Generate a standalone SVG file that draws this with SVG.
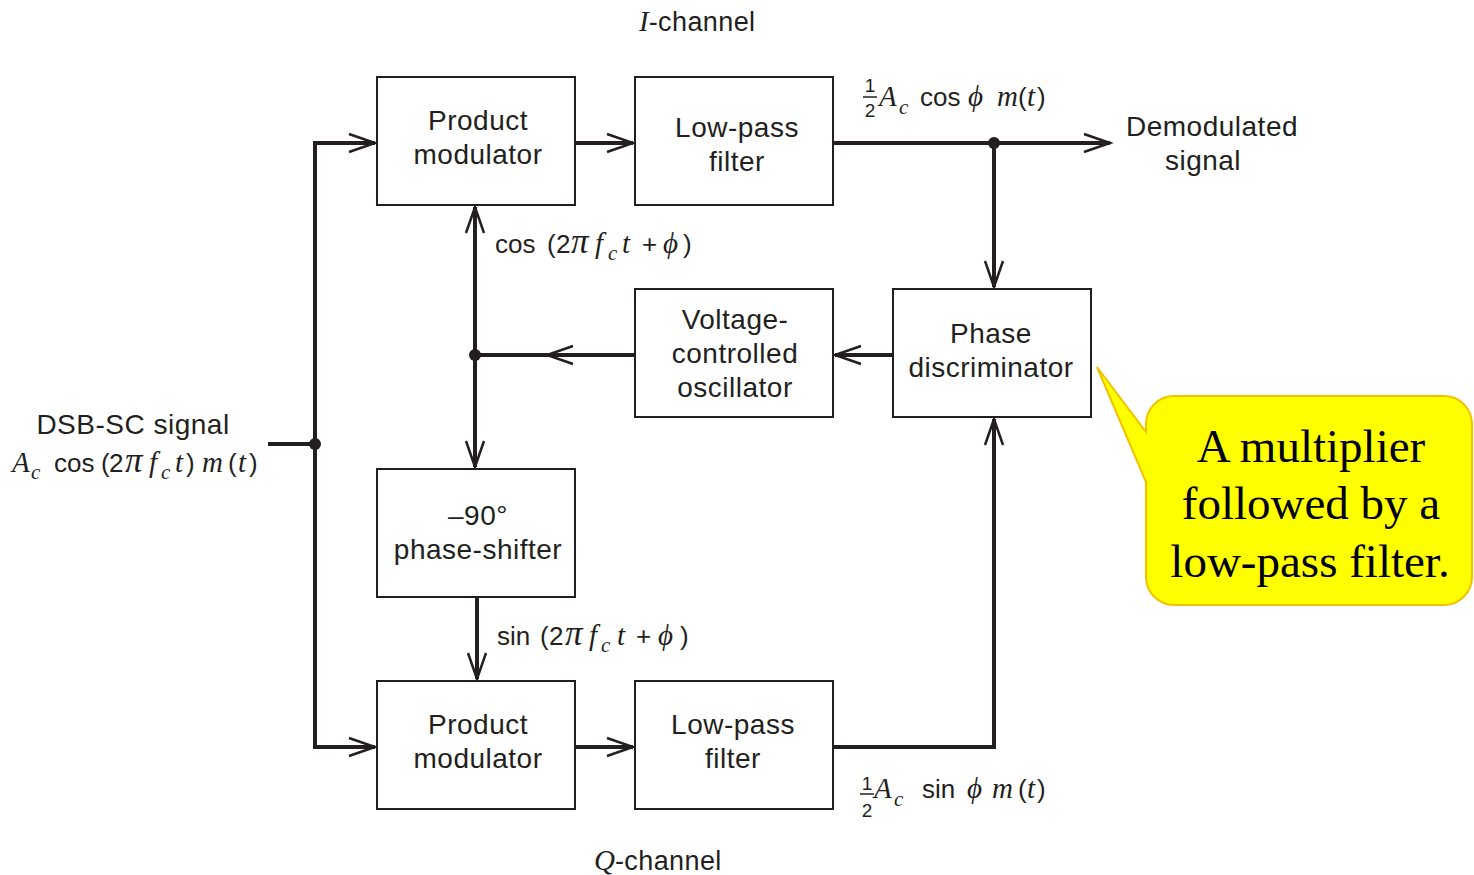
<svg xmlns="http://www.w3.org/2000/svg" width="1474" height="875" viewBox="0 0 1474 875">
<defs>
<style>
.box{fill:#fff;stroke:#231f20;stroke-width:2}
.ln{fill:none;stroke:#231f20;stroke-width:4}
.t{font-family:"Liberation Sans",Arial,sans-serif;font-size:28px;letter-spacing:0.5px;fill:#231f20;text-anchor:middle}
.m{font-family:"Liberation Sans",Arial,sans-serif;font-size:27px;letter-spacing:0.4px;fill:#231f20}
.e{font-family:"Liberation Sans",Arial,sans-serif;font-size:26px;fill:#231f20}
.i{font-family:"Liberation Serif","Times New Roman",serif;font-style:italic;font-size:29px;letter-spacing:0}
.pi{font-size:35px}
.sub{font-size:21px}
.fr{font-family:"Liberation Sans",Arial,sans-serif;font-size:19px;fill:#231f20;text-anchor:middle}
.call{font-family:"Liberation Serif","Times New Roman",serif;font-size:47px;fill:#000;text-anchor:middle}
</style>
<marker id="ah" markerUnits="userSpaceOnUse" markerWidth="40" markerHeight="30" viewBox="-30 -15 34 30" refX="0" refY="0" orient="auto">
<path d="M-26,-9 L0,0 L-26,9" fill="none" stroke="#231f20" stroke-width="2.5"/>
</marker>
</defs>
<rect width="1474" height="875" fill="#fff"/>

<g id="connectors">
<polyline class="ln" points="268,444 315,444"/>
<polyline class="ln" points="375,143 315,143 315,747 375,747" marker-end="url(#ah)"/>
<line class="ln" x1="315" y1="143" x2="375" y2="143" marker-end="url(#ah)"/>
<line class="ln" x1="575" y1="143" x2="633" y2="143" marker-end="url(#ah)"/>
<line class="ln" x1="833" y1="143" x2="1110" y2="143" marker-end="url(#ah)"/>
<line class="ln" x1="994" y1="143" x2="994" y2="287" marker-end="url(#ah)"/>
<line class="ln" x1="893" y1="355" x2="835" y2="355" marker-end="url(#ah)"/>
<line class="ln" x1="635" y1="355" x2="547" y2="355" marker-end="url(#ah)"/>
<line class="ln" x1="547" y1="355" x2="475" y2="355"/>
<line class="ln" x1="475" y1="355" x2="475" y2="207" marker-end="url(#ah)"/>
<line class="ln" x1="475" y1="355" x2="475" y2="467" marker-end="url(#ah)"/>
<line class="ln" x1="477" y1="597" x2="477" y2="679" marker-end="url(#ah)"/>
<line class="ln" x1="575" y1="747" x2="633" y2="747" marker-end="url(#ah)"/>
<polyline class="ln" points="833,747 994,747 994,419" marker-end="url(#ah)"/>
<circle cx="315" cy="444" r="6" fill="#231f20"/>
<circle cx="994" cy="143" r="6" fill="#231f20"/>
<circle cx="475" cy="355" r="6" fill="#231f20"/>
</g>

<g id="pm1"><rect class="box" x="377" y="77" width="198" height="128"/>
<text class="t" x="478" y="130">Product</text><text class="t" x="478" y="164">modulator</text></g>
<g id="lpf1"><rect class="box" x="635" y="77" width="198" height="128"/>
<text class="t" x="737" y="137">Low-pass</text><text class="t" x="737" y="171">filter</text></g>
<g id="vco"><rect class="box" x="635" y="289" width="198" height="128"/>
<text class="t" x="735" y="329">Voltage-</text><text class="t" x="735" y="363">controlled</text><text class="t" x="735" y="397">oscillator</text></g>
<g id="pd"><rect class="box" x="893" y="289" width="198" height="128"/>
<text class="t" x="991" y="343">Phase</text><text class="t" x="991" y="377">discriminator</text></g>
<g id="ps"><rect class="box" x="377" y="469" width="198" height="128"/>
<text class="t" x="478" y="525">–90°</text><text class="t" x="478" y="559">phase-shifter</text></g>
<g id="pm2"><rect class="box" x="377" y="681" width="198" height="128"/>
<text class="t" x="478" y="734">Product</text><text class="t" x="478" y="768">modulator</text></g>
<g id="lpf2"><rect class="box" x="635" y="681" width="198" height="128"/>
<text class="t" x="733" y="734">Low-pass</text><text class="t" x="733" y="768">filter</text></g>

<g id="labels">
<text class="m" x="639" y="31"><tspan class="i">I</tspan>-channel</text>
<text class="m" x="594" y="870"><tspan class="i">Q</tspan>-channel</text>
<text class="t" x="1212" y="136">Demodulated</text>
<text class="t" x="1203" y="170">signal</text>
<text class="t" x="133" y="434">DSB-SC signal</text>

<text class="e"><tspan class="i" x="12" y="472">A</tspan><tspan class="i sub" x="31" y="479">c</tspan><tspan x="54" y="472">cos</tspan><tspan x="101" y="472">(</tspan><tspan x="109" y="472">2</tspan><tspan class="i pi" x="125" y="472">π</tspan><tspan class="i" x="149" y="472">f</tspan><tspan class="i sub" x="161" y="479">c</tspan><tspan class="i" x="175" y="472">t</tspan><tspan x="186" y="472">)</tspan><tspan class="i" x="202" y="472">m</tspan><tspan x="228" y="472">(</tspan><tspan class="i" x="238" y="472">t</tspan><tspan x="249" y="472">)</tspan></text>

<text class="fr" x="870" y="92">1</text><line x1="863" y1="97" x2="877" y2="97" stroke="#231f20" stroke-width="1.5"/><text class="fr" x="870" y="117">2</text>
<text class="e"><tspan class="i" x="879" y="106">A</tspan><tspan class="i sub" x="899" y="114">c</tspan><tspan x="920" y="106">cos</tspan><tspan class="i" x="968" y="106">ϕ</tspan><tspan class="i" x="997" y="106">m</tspan><tspan x="1018" y="106">(</tspan><tspan class="i" x="1027" y="106">t</tspan><tspan x="1037" y="106">)</tspan></text>

<text class="fr" x="867" y="790">1</text><line x1="860" y1="794" x2="874" y2="794" stroke="#231f20" stroke-width="1.5"/><text class="fr" x="867" y="817">2</text>
<text class="e"><tspan class="i" x="874" y="798">A</tspan><tspan class="i sub" x="894" y="806">c</tspan><tspan x="922" y="798">sin</tspan><tspan class="i" x="967" y="798">ϕ</tspan><tspan class="i" x="992" y="798">m</tspan><tspan x="1018" y="798">(</tspan><tspan class="i" x="1027" y="798">t</tspan><tspan x="1037" y="798">)</tspan></text>

<text class="e"><tspan x="495" y="253">cos</tspan><tspan x="547" y="253">(</tspan><tspan x="556" y="253">2</tspan><tspan class="i pi" x="571" y="253">π</tspan><tspan class="i" x="595" y="253">f</tspan><tspan class="i sub" x="608" y="260">c</tspan><tspan class="i" x="622" y="253">t</tspan><tspan x="642" y="253">+</tspan><tspan class="i" x="663" y="253">ϕ</tspan><tspan x="683" y="253">)</tspan></text>
<text class="e"><tspan x="497" y="645">sin</tspan><tspan x="540" y="645">(</tspan><tspan x="549" y="645">2</tspan><tspan class="i pi" x="565" y="645">π</tspan><tspan class="i" x="589" y="645">f</tspan><tspan class="i sub" x="601" y="652">c</tspan><tspan class="i" x="617" y="645">t</tspan><tspan x="636" y="645">+</tspan><tspan class="i" x="658" y="645">ϕ</tspan><tspan x="680" y="645">)</tspan></text>
</g>

<g id="callout">
<path d="M1174,396 H1444 A28,28 0 0 1 1472,424 V577 A28,28 0 0 1 1444,605 H1174 A28,28 0 0 1 1146,577 V482 L1097,367 L1146,432 V424 A28,28 0 0 1 1174,396 Z" fill="#ffff00" stroke="#f2c200" stroke-width="2"/>
<text class="call" x="1311" y="462">A multiplier</text>
<text class="call" x="1311" y="519">followed by a</text>
<text class="call" x="1310" y="577">low-pass filter.</text>
</g>
</svg>
